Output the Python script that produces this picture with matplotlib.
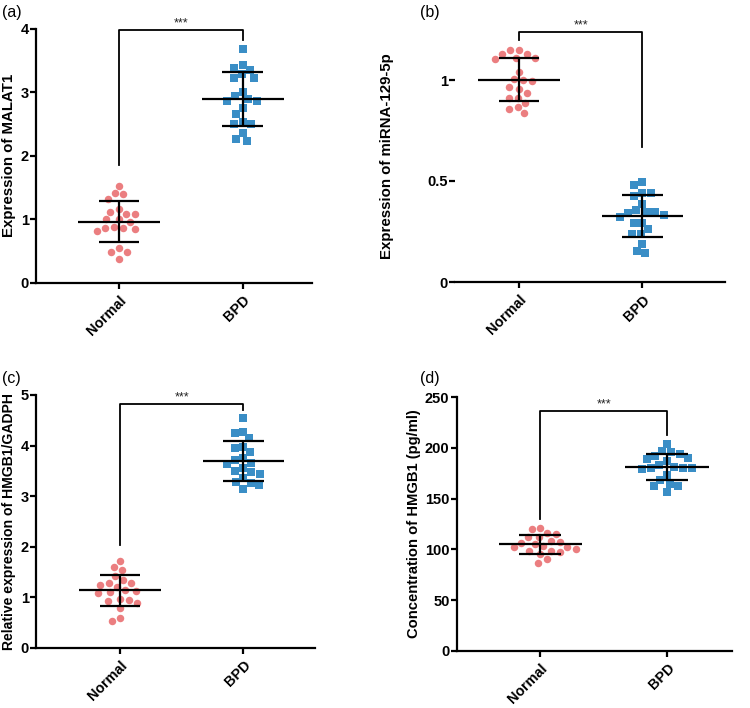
import numpy as np
import matplotlib
matplotlib.use('Agg')
import matplotlib.pyplot as plt

plt.rcParams['font.family'] = ['Liberation Sans', 'DejaVu Sans']

groups = ['Normal', 'BPD']

# ---- data ----
a_normal = [1.53, 1.40, 1.41, 1.32, 1.16, 1.12, 1.085, 1.085, 1.00, 1.00,
            0.96, 0.885, 0.86, 0.817, 0.84, 0.87, 0.49, 0.54, 0.48, 0.37]
a_bpd = [3.69, 3.35, 3.39, 3.43, 3.23, 3.23, 3.29, 3.01, 2.94, 2.87,
         2.87, 2.90, 2.75, 2.66, 2.50, 2.50, 2.53, 2.36, 2.24, 2.27]

b_normal = [1.129, 1.149, 1.149, 1.129, 1.109, 1.105, 1.109, 1.038, 1.000, 0.995,
            1.003, 0.967, 0.955, 0.934, 0.911, 0.912, 0.888, 0.865, 0.855, 0.835]
b_bpd = [0.495, 0.479, 0.442, 0.427, 0.439, 0.386, 0.348, 0.330, 0.343, 0.347,
         0.356, 0.323, 0.294, 0.290, 0.261, 0.238, 0.238, 0.187, 0.153, 0.142]

c_normal = [1.72, 1.60, 1.53, 1.33, 1.41, 1.29, 1.25, 1.28, 1.21, 1.15,
            1.13, 1.10, 1.08, 0.96, 0.93, 0.88, 0.78, 0.59, 0.52, 0.94]
c_bpd = [4.54, 4.24, 4.27, 4.14, 3.96, 3.98, 3.87, 3.66, 3.63, 3.75,
         3.72, 3.56, 3.50, 3.44, 3.48, 3.35, 3.25, 3.27, 3.21, 3.14]

d_normal = [121.1, 120.1, 112.2, 115.8, 115.5, 112.2, 107.2, 107.9, 106.6, 104.9,
            103.0, 102.3, 102.3, 100.7, 98.7, 97.4, 98.4, 95.1, 90.8, 86.5]
d_bpd = [204.0, 195.8, 196.8, 191.8, 193.8, 189.2, 189.9, 187.2, 183.6, 181.6,
         180.6, 179.0, 180.0, 180.6, 173.1, 168.8, 164.8, 162.5, 162.5, 156.3]

ylabels = ['Expression of MALAT1', 'Expression of miRNA-129-5p',
           'Relative expression of HMGB1/GADPH', 'Concentration of HMGB1 (pg/ml)']
panel_labels = ['(a)', '(b)', '(c)', '(d)']
yticks = [[0, 1, 2, 3, 4], [0, 0.5, 1], [0, 1, 2, 3, 4, 5], [0, 50, 100, 150, 200, 250]]
yticklabels = [['0', '1', '2', '3', '4'], ['0', '0.5', '1'],
               ['0', '1', '2', '3', '4', '5'], ['0', '50', '100', '150', '200', '250']]
ylims = [(0, 4), (0, 1.25), (0, 5), (0, 250)]
# bracket: (normal leg bottom, top, bpd leg bottom)
brackets = [(1.86, 3.99, 3.83), (1.198, 1.238, 0.67), (2.03, 4.83, 4.70), (130, 236.8, 212.9)]
sig_text = '***'

col_normal = '#EB7E80'
col_bpd = '#3A8EC6'

fig = plt.figure(figsize=(7.5, 7.08), dpi=100)

W, H = 750.0, 708.0
# axes rectangles in pixels: left, right, top, bottom
rects = [(36, 312, 29, 282.7), (455, 725, 29.5, 282), (36, 315, 395, 647.7), (456.7, 732, 397.3, 650.7)]
xlims = [(-0.67, 1.56), (-0.52, 1.67), (-0.68, 1.58), (-0.66, 1.51)]
labelpads = [3, 24, 3, 3]
ylabel_sizes = [10.8, 10.8, 10.1, 10.6]

datasets = [(a_normal, a_bpd), (b_normal, b_bpd), (c_normal, c_bpd), (d_normal, d_bpd)]
label_pos = [(2, 12), (420, 12), (2, 378), (420, 379)]


def swarm_offsets(ax, vals, d_px):
    bbox = ax.get_window_extent()
    xl = ax.get_xlim()
    yl = ax.get_ylim()
    sx = bbox.width / (xl[1] - xl[0])
    sy = bbox.height / (yl[1] - yl[0])
    ys = np.asarray(vals, dtype=float) * sy
    order = np.argsort(-ys, kind='stable')
    px_list, py_list = [], []
    xs = np.zeros(len(ys))
    for i in order:
        y = ys[i]
        neigh = [(px, py) for px, py in zip(px_list, py_list) if abs(py - y) < d_px]
        cands = [0.0]
        for px, py in neigh:
            dx = np.sqrt(d_px ** 2 - (py - y) ** 2)
            cands += [px - dx, px + dx]
        cands = sorted(cands, key=lambda c: (abs(c), c))
        for c in cands:
            if all((c - px) ** 2 + (y - py) ** 2 >= d_px ** 2 - 1e-6 for px, py in neigh):
                xs[i] = c
                break
        px_list.append(xs[i])
        py_list.append(y)
    return xs / sx


for k in range(4):
    l, r, t, b = rects[k]
    ax = fig.add_axes([l / W, 1 - b / H, (r - l) / W, (b - t) / H])
    ax.set_xlim(*xlims[k])
    ax.set_ylim(*ylims[k])
    for s in ['top', 'right']:
        ax.spines[s].set_visible(False)
    for s in ['left', 'bottom']:
        ax.spines[s].set_linewidth(1.6)
    if k == 1:
        ax.spines['left'].set_visible(False)
    ax.tick_params(axis='both', width=1.6, length=4, direction='out', labelsize=10.5)
    ax.tick_params(axis='y', pad=1.2)
    ax.set_yticks(yticks[k])
    ax.set_yticklabels(yticklabels[k], fontweight='bold')
    ax.set_xticks([0, 1])
    ax.set_xticklabels(groups, rotation=45, ha='right', rotation_mode='anchor',
                       fontweight='bold', fontsize=10.3)
    ax.set_ylabel(ylabels[k], fontweight='bold', fontsize=ylabel_sizes[k], labelpad=labelpads[k])

    for gi, (vals, col, mk) in enumerate(zip(datasets[k], [col_normal, col_bpd], ['o', 's'])):
        offs = swarm_offsets(ax, vals, 8.8)
        ax.plot(gi + offs, vals, linestyle='none', marker=mk, color=col,
                markersize=5.4, markeredgewidth=0, zorder=2, clip_on=False)
        m = np.mean(vals)
        sd = np.std(vals, ddof=1)
        ax.plot([gi - 0.33, gi + 0.33], [m, m], color='black', lw=1.6, zorder=3, solid_capstyle='butt')
        ax.plot([gi - 0.165, gi + 0.165], [m + sd, m + sd], color='black', lw=1.6, zorder=3, solid_capstyle='butt')
        ax.plot([gi - 0.165, gi + 0.165], [m - sd, m - sd], color='black', lw=1.6, zorder=3, solid_capstyle='butt')
        ax.plot([gi, gi], [m - sd, m + sd], color='black', lw=1.6, zorder=3, solid_capstyle='butt')

    b0, btop, b1 = brackets[k]
    ax.plot([0, 0, 1, 1], [b0, btop, btop, b1], color='black', lw=1.3, zorder=3, clip_on=False)
    ax.text(0.5, btop, sig_text, ha='center', va='bottom', fontsize=9, color='#222222')

    fig.text(label_pos[k][0] / W, 1 - label_pos[k][1] / H, panel_labels[k],
             ha='left', va='center', fontsize=11.5)

fig.savefig('out.png', dpi=100)
